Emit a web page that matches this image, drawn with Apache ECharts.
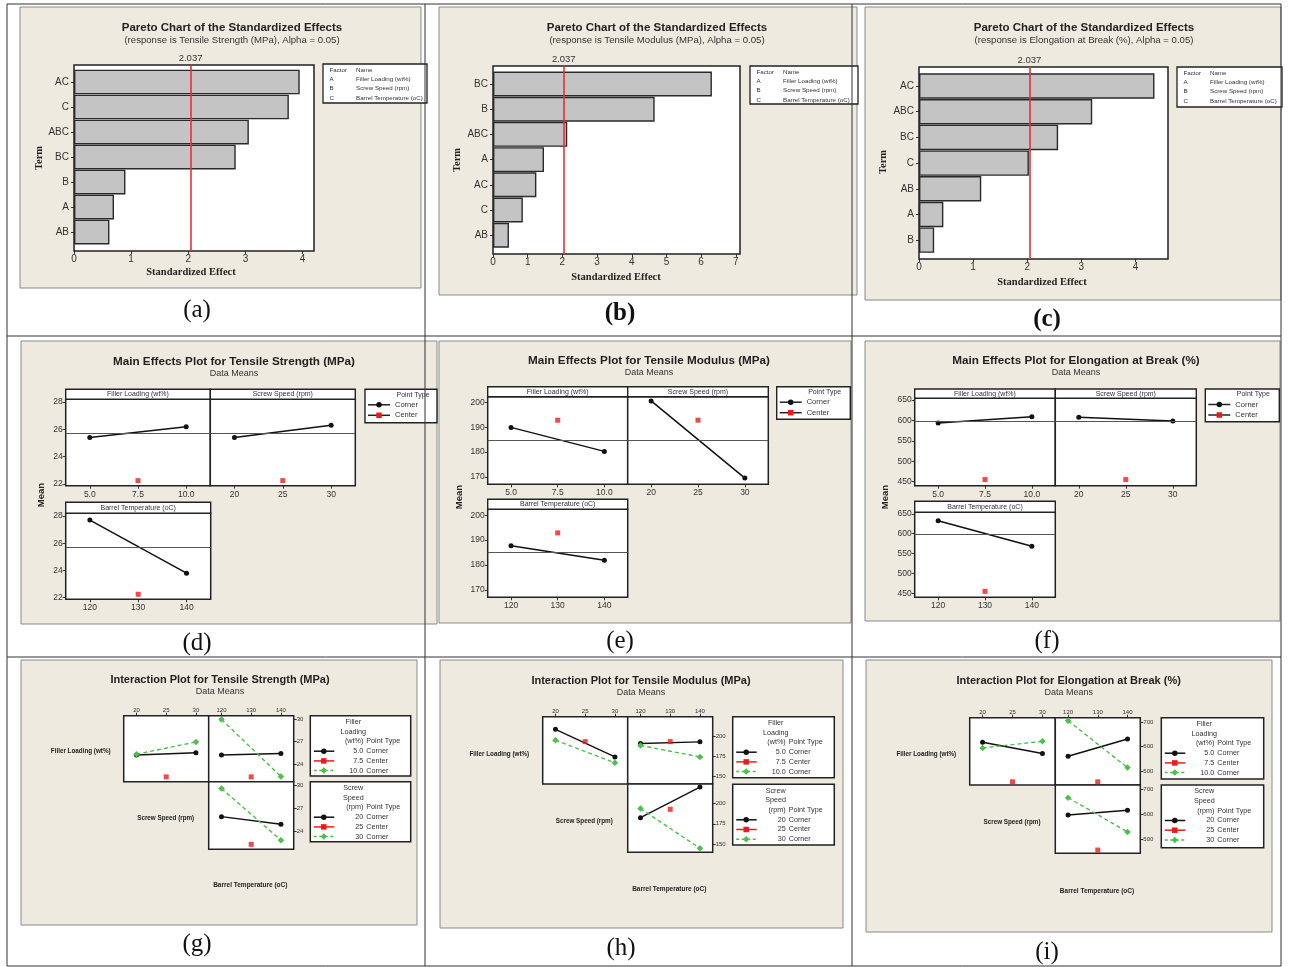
<!DOCTYPE html>
<html>
<head>
<meta charset="utf-8">
<script src="https://cdn.jsdelivr.net/npm/echarts@6/dist/echarts.min.js"></script>
<style>
html,body{margin:0;padding:0;background:#fff}
#chart{width:1304px;height:967px}
</style>
</head>
<body>
<div id="chart"></div>
<script>
// ---------------- data ----------------
const factorCodes = ['A', 'B', 'C'];
const factorNames = ['Filler Loading (wt%)', 'Screw Speed (rpm)', 'Barrel Temperature (oC)'];
const criticalEffect = 2.037;

// Pareto charts of standardized effects
const paretoTermsTS = ['AC', 'C', 'ABC', 'BC', 'B', 'A', 'AB'];
const paretoEffectsTS = [3.95, 3.76, 3.06, 2.83, 0.90, 0.70, 0.62];
const paretoTermsTM = ['BC', 'B', 'ABC', 'A', 'AC', 'C', 'AB'];
const paretoEffectsTM = [6.31, 4.66, 2.14, 1.47, 1.25, 0.86, 0.46];
const paretoTermsEB = ['AC', 'ABC', 'BC', 'C', 'AB', 'A', 'B'];
const paretoEffectsEB = [4.35, 3.20, 2.57, 2.03, 1.15, 0.45, 0.28];
const paretoTicks4 = [0, 1, 2, 3, 4];
const paretoTicks7 = [0, 1, 2, 3, 4, 5, 6, 7];

// factor levels (corner) and center points
const fillerLevels = [5.0, 10.0];
const speedLevels = [20, 30];
const tempLevels = [120, 140];
const fillerCenter = 7.5;
const speedCenter = 25;
const tempCenter = 130;
const fillerTicks = [5.0, 7.5, 10.0];
const speedTicks = [20, 25, 30];
const tempTicks = [120, 130, 140];

// main effects: corner means at low/high level, center-point mean, grand mean
const tsMainFiller = [25.4, 26.2];
const tsMainSpeed = [25.4, 26.3];
const tsMainTemp = [27.7, 23.8];
const tsCenter = 22.25;
const tsGrandMean = 25.7;
const tsMainTicks = [22, 24, 26, 28];

const tmMainFiller = [190.0, 180.3];
const tmMainSpeed = [200.7, 169.5];
const tmMainTemp = [187.7, 181.9];
const tmCenter = 192.9;
const tmGrandMean = 185.0;
const tmMainTicks = [170, 180, 190, 200];

const ebMainFiller = [593.4, 609.0];
const ebMainSpeed = [607.4, 598.4];
const ebMainTemp = [632.6, 568.6];
const ebCenter = 455.0;
const ebGrandMean = 598.0;
const ebMainTicks = [450, 500, 550, 600, 650];

// interaction means: line for low level / high level of the row factor
const tsFillerSpeedLow = [25.2, 25.5];
const tsFillerSpeedHigh = [25.3, 26.96];
const tsFillerTempLow = [25.2, 25.4];
const tsFillerTempHigh = [30.0, 22.3];
const tsSpeedTempLow = [25.9, 24.9];
const tsSpeedTempHigh = [29.6, 22.8];
const tsIntTicks = [24, 27, 30];

const tmFillerSpeedLow = [208.2, 173.8];
const tmFillerSpeedHigh = [194.7, 166.4];
const tmFillerTempLow = [190.6, 192.6];
const tmFillerTempHigh = [188.1, 173.8];
const tmSpeedTempLow = [182.6, 220.2];
const tmSpeedTempHigh = [193.8, 145.0];
const tmIntTicks = [150, 175, 200];

const ebFillerSpeedLow = [617.7, 571.4];
const ebFillerSpeedHigh = [594.6, 621.8];
const ebFillerTempLow = [560.5, 631.3];
const ebFillerTempHigh = [706.8, 513.6];
const ebSpeedTempLow = [597.3, 616.3];
const ebSpeedTempHigh = [667.3, 528.6];
const ebIntTicks = [500, 600, 700];

const panelLetters = ['(a)', '(b)', '(c)', '(d)', '(e)', '(f)', '(g)', '(h)', '(i)'];

// ---------------- drawing helpers ----------------
const SANS = 'Liberation Sans';
const SERIF = 'Liberation Serif';
const INK = '#222';
const BEIGE = '#eeeae0';
const RED = '#ee1a1a';
const GREEN = '#4cbf4c';

const grid = [], xAxis = [], yAxis = [], series = [], graphic = [];

function addText(x, y, s, o = {}) {
  graphic.push({
    type: 'text', x, y, rotation: o.rotation || 0, z: o.z ?? 6, silent: true,
    style: {
      text: s, fill: o.color || INK, fontSize: o.size || 9, fontFamily: o.family || SANS,
      fontWeight: o.weight || 'normal',
      textAlign: o.align || 'center', align: o.align || 'center',
      textVerticalAlign: 'middle', verticalAlign: 'middle'
    }
  });
}
function addRect(x, y, w, h, o = {}) {
  graphic.push({
    type: 'rect', z: o.z ?? 5, silent: true, shape: { x, y, width: w, height: h },
    style: { fill: o.fill || '#fff', stroke: o.stroke || '#222', lineWidth: o.lw ?? 1 }
  });
}
function addLine(x1, y1, x2, y2, o = {}) {
  const style = { stroke: o.color || '#222', lineWidth: o.lw || 1 };
  if (o.dash) style.lineDash = o.dash;
  graphic.push({ type: 'line', z: o.z ?? 6, silent: true, shape: { x1, y1, x2, y2 }, style });
}
function addMarker(kind, cx, cy, color, size) {
  if (kind === 'circle') {
    graphic.push({ type: 'circle', z: 7, silent: true, shape: { cx, cy, r: size / 2 }, style: { fill: color } });
  } else if (kind === 'rect') {
    graphic.push({ type: 'rect', z: 7, silent: true, shape: { x: cx - size / 2, y: cy - size / 2, width: size, height: size }, style: { fill: color } });
  } else {
    const h = size / 2;
    graphic.push({ type: 'polygon', z: 7, silent: true, shape: { points: [[cx, cy - h], [cx + h, cy], [cx, cy + h], [cx - h, cy]] }, style: { fill: color } });
  }
}
function addGrid(r, o = {}) {
  grid.push({
    left: r.l, top: r.t, width: r.w, height: r.h, show: o.show !== false,
    backgroundColor: '#fff', borderColor: '#222', borderWidth: o.bw || 1.4, z: 1
  });
  return grid.length - 1;
}
function valAxis(gi, min, max, ticks, o = {}) {
  const has = !!ticks;
  return {
    type: 'value', gridIndex: gi, min, max, position: o.pos,
    splitLine: { show: false }, axisLine: { show: false },
    axisTick: { show: has, length: o.tl || 3, customValues: ticks || undefined, lineStyle: { color: '#333', width: 1 } },
    axisLabel: {
      show: has && o.labels !== false, customValues: ticks || undefined, fontFamily: SANS,
      fontSize: o.fs || 9, color: '#333', margin: o.margin ?? 3, formatter: o.fmt, hideOverlap: false
    }
  };
}

// ---------------- Pareto charts ----------------
function pareto(L, subtitle, terms, effects, ticks) {
  addText(L.cx, L.ty, 'Pareto Chart of the Standardized Effects', { size: 11.5, weight: 'bold' });
  addText(L.cx, L.ty + 12.5, subtitle, { size: 9.6, color: '#333' });

  const gf = addGrid(L.frame, { bw: 1.5 });
  xAxis.push(valAxis(gf, 0, L.max, ticks, { fs: 10, margin: 3 }));
  yAxis.push({ type: 'value', gridIndex: gf, min: 0, max: 1, show: false });
  series.push({
    type: 'scatter', xAxisIndex: xAxis.length - 1, yAxisIndex: yAxis.length - 1, data: [], z: 2, silent: true,
    markLine: {
      silent: true, symbol: ['none', 'none'], animation: false,
      lineStyle: { color: '#e8322e', width: 1.6, type: 'solid' },
      label: { show: true, position: 'end', distance: 2, formatter: () => criticalEffect.toFixed(3), fontSize: 9.5, fontFamily: SANS, color: '#333' },
      data: [{ xAxis: criticalEffect }]
    }
  });

  const gb = addGrid({ l: L.frame.l, t: L.barTop, w: L.frame.w, h: L.barH }, { show: false });
  xAxis.push({ type: 'value', gridIndex: gb, min: 0, max: L.max, show: false });
  yAxis.push({
    type: 'category', gridIndex: gb, inverse: true, data: terms,
    axisLine: { show: false },
    axisTick: { show: true, alignWithLabel: true, length: 3, lineStyle: { color: '#333' } },
    axisLabel: { fontSize: 10, fontFamily: SANS, color: '#333', margin: 5 }
  });
  series.push({
    type: 'bar', xAxisIndex: xAxis.length - 1, yAxisIndex: yAxis.length - 1, data: effects,
    barCategoryGap: '1%', z: 3, silent: true,
    itemStyle: { color: '#c4c4c4', borderColor: '#2a2a2a', borderWidth: 1.4 }
  });

  addText(L.termX, L.termY, 'Term', { size: 10.5, weight: 'bold', family: SERIF, rotation: Math.PI / 2 });
  addText(L.effX, L.effY, 'Standardized Effect', { size: 10.5, weight: 'bold', family: SERIF });

  const g = L.legend;
  addRect(g.l, g.t, g.w, g.h, { lw: 1.3 });
  const rows = ['Factor'].concat(factorCodes);
  const names = ['Name'].concat(factorNames);
  rows.forEach((c, i) => {
    const y = g.t + 6 + i * 9.3;
    addText(g.l + 6.5, y, c, { size: 6.2, align: 'left', color: '#333' });
    addText(g.l + 33, y, names[i], { size: 6.2, align: 'left', color: '#333' });
  });
}

// ---------------- main effects plots ----------------
function mainEffects(L, title, vFiller, vSpeed, vTemp, center, mean, yMin, yMax, ticks) {
  addText(L.cx, L.ty, title, { size: 11.7, weight: 'bold' });
  addText(L.cx, L.ty + 12, 'Data Means', { size: 9, color: '#333' });
  const facs = [
    { lv: fillerLevels, c: fillerCenter, v: vFiller, ticks: fillerTicks, fmt: v => Number(v).toFixed(1), name: factorNames[0] },
    { lv: speedLevels, c: speedCenter, v: vSpeed, ticks: speedTicks, fmt: v => String(v), name: factorNames[1] },
    { lv: tempLevels, c: tempCenter, v: vTemp, ticks: tempTicks, fmt: v => String(v), name: factorNames[2] }
  ];
  L.panels.forEach((p, i) => {
    const f = facs[i];
    const gi = addGrid(p, { bw: 1.5 });
    const pad = (f.lv[1] - f.lv[0]) * 0.25;
    xAxis.push(valAxis(gi, f.lv[0] - pad, f.lv[1] + pad, f.ticks, { fmt: f.fmt, fs: 8.5, margin: 4 }));
    yAxis.push(valAxis(gi, yMin, yMax, p.showY ? ticks : null, { fs: 8.5, margin: 3 }));
    const xi = xAxis.length - 1, yi = yAxis.length - 1;
    series.push({
      type: 'line', xAxisIndex: xi, yAxisIndex: yi, z: 3, silent: true,
      data: f.lv.map((x, k) => [x, f.v[k]]),
      symbol: 'circle', symbolSize: 5, lineStyle: { color: '#111', width: 1.5 }, itemStyle: { color: '#111' },
      markLine: {
        silent: true, symbol: ['none', 'none'], animation: false, label: { show: false },
        lineStyle: { color: '#555', width: 1.1, type: 'solid' }, data: [{ yAxis: mean }]
      }
    });
    series.push({
      type: 'scatter', xAxisIndex: xi, yAxisIndex: yi, z: 4, silent: true,
      data: [[f.c, center]], symbol: 'rect', symbolSize: 5, itemStyle: { color: RED }
    });
    addRect(p.l, p.ht, p.w, p.t - p.ht, { lw: 1.4 });
    addText(p.l + p.w / 2, p.ht + (p.t - p.ht) / 2, f.name, { size: 7, color: '#333' });
  });
  addText(L.meanX, L.meanY, 'Mean', { size: 9.5, weight: 'bold', rotation: Math.PI / 2 });

  const g = L.legend;
  addRect(g.l, g.t, g.w, g.h, { lw: 1.4 });
  addText(g.l + 48, g.t + 5.5, 'Point Type', { size: 7, color: '#333' });
  [['Corner', 'circle', '#111'], ['Center', 'rect', RED]].forEach((r, k) => {
    const y = g.t + 15.5 + k * 10.5;
    addLine(g.l + 3, y, g.l + 25, y, { color: '#222', lw: 1.5, z: 6 });
    addMarker(r[1], g.l + 14, y, r[2], 5.5);
    addText(g.l + 30, y, r[0], { size: 7.5, align: 'left', color: '#333' });
  });
}

// ---------------- interaction plots ----------------
function interaction(L, title, fsLow, fsHigh, ftLow, ftHigh, stLow, stHigh, center, yMin, yMax, ticks) {
  addText(L.cx, L.ty, title, { size: 11, weight: 'bold' });
  addText(L.cx, L.ty + 12, 'Data Means', { size: 9, color: '#333' });
  const padFrac = 0.215;
  const cells = [
    { r: L.r1c1, lv: speedLevels, c: speedCenter, tk: speedTicks, low: fsLow, high: fsHigh, top: true, right: false },
    { r: L.r1c2, lv: tempLevels, c: tempCenter, tk: tempTicks, low: ftLow, high: ftHigh, top: true, right: true },
    { r: L.r2c2, lv: tempLevels, c: tempCenter, tk: tempTicks, low: stLow, high: stHigh, top: false, right: true }
  ];
  cells.forEach(cl => {
    const gi = addGrid(cl.r, { bw: 1.5 });
    const pad = (cl.lv[1] - cl.lv[0]) * padFrac;
    xAxis.push(valAxis(gi, cl.lv[0] - pad, cl.lv[1] + pad, cl.top ? cl.tk : null, { pos: 'top', fs: 6, margin: 2.5 }));
    yAxis.push(valAxis(gi, yMin, yMax, cl.right ? ticks : null, { pos: 'right', fs: 6, margin: 3 }));
    const xi = xAxis.length - 1, yi = yAxis.length - 1;
    series.push({
      type: 'line', xAxisIndex: xi, yAxisIndex: yi, z: 3, silent: true,
      data: cl.lv.map((x, k) => [x, cl.low[k]]),
      symbol: 'circle', symbolSize: 5, lineStyle: { color: '#111', width: 1.4 }, itemStyle: { color: '#111' }
    });
    series.push({
      type: 'line', xAxisIndex: xi, yAxisIndex: yi, z: 3, silent: true,
      data: cl.lv.map((x, k) => [x, cl.high[k]]),
      symbol: 'diamond', symbolSize: 6.5, lineStyle: { color: GREEN, width: 1.4, type: [4, 3] }, itemStyle: { color: GREEN }
    });
    series.push({
      type: 'scatter', xAxisIndex: xi, yAxisIndex: yi, z: 4, silent: true,
      data: [[cl.c, center]], symbol: 'rect', symbolSize: 5, itemStyle: { color: RED }
    });
  });
  addText(L.flX, L.flY, factorNames[0], { size: 6.3, weight: 'bold' });
  addText(L.ssX, L.ssY, factorNames[1], { size: 6.3, weight: 'bold' });
  addText(L.btX, L.btY, factorNames[2], { size: 6.5, weight: 'bold' });

  const legends = [
    { box: L.lg1, head: ['Filler', 'Loading', '(wt%)'], lv: [fillerLevels[0], fillerCenter, fillerLevels[1]].map(v => v.toFixed(1)) },
    { box: L.lg2, head: ['Screw', 'Speed', '(rpm)'], lv: [speedLevels[0], speedCenter, speedLevels[1]].map(String) }
  ];
  legends.forEach(lg => {
    const b = lg.box;
    addRect(b.l, b.t, b.w, b.h, { lw: 1.5 });
    const colR = b.l + 53;
    addText(colR - 10, b.t + 6.5, lg.head[0], { size: 7.2, color: '#333' });
    addText(colR - 10, b.t + 16, lg.head[1], { size: 7.2, color: '#333' });
    addText(colR, b.t + 25.6, lg.head[2], { size: 7.2, color: '#333', align: 'right' });
    addText(colR + 3, b.t + 25.6, 'Point Type', { size: 7.2, color: '#333', align: 'left' });
    const rows = [
      { kind: 'circle', col: '#111', dash: null, txt: 'Corner' },
      { kind: 'rect', col: RED, dash: null, txt: 'Center' },
      { kind: 'diamond', col: GREEN, dash: [3, 2.5], txt: 'Corner' }
    ];
    rows.forEach((r, k) => {
      const y = b.t + 35.5 + k * 9.7;
      addLine(b.l + 3.5, y, b.l + 24, y, { color: r.col, lw: 1.5, dash: r.dash });
      addMarker(r.kind, b.l + 13.5, y, r.col, r.kind === 'diamond' ? 6.5 : 5.5);
      addText(colR, y, lg.lv[k], { size: 7.2, color: '#333', align: 'right' });
      addText(colR + 3, y, r.txt, { size: 7.2, color: '#333', align: 'left' });
    });
  });
}

// ---------------- page layout ----------------
const panelBoxes = [
  [20, 7, 401, 281], [439, 7, 418, 288], [865, 7, 416, 293],
  [21, 341, 416, 283], [439, 341, 412, 282], [865, 341, 415, 280],
  [21, 660, 396, 265], [440, 660, 403, 268], [866, 660, 406, 272]
];
panelBoxes.forEach(b => addRect(b[0], b[1], b[2], b[3], { fill: BEIGE, stroke: '#8a8a8a', lw: 1, z: -5 }));

pareto({ cx: 232, ty: 28, frame: { l: 74, t: 65, w: 240, h: 186 }, barTop: 69.5, barH: 175, max: 4.2,
  termX: 39, termY: 158, effX: 191, effY: 272, legend: { l: 323, t: 64, w: 104, h: 39 } },
  '(response is Tensile Strength (MPa), Alpha = 0.05)', paretoTermsTS, paretoEffectsTS, paretoTicks4);
pareto({ cx: 657, ty: 28, frame: { l: 493, t: 66, w: 247, h: 188 }, barTop: 71.4, barH: 176.4, max: 7.12,
  termX: 457, termY: 160, effX: 616, effY: 277, legend: { l: 750, t: 66, w: 108, h: 38 } },
  '(response is Tensile Modulus (MPa), Alpha = 0.05)', paretoTermsTM, paretoEffectsTM, paretoTicks7);
pareto({ cx: 1084, ty: 28, frame: { l: 919, t: 67, w: 249, h: 192 }, barTop: 73.2, barH: 179.8, max: 4.6,
  termX: 883, termY: 162, effX: 1042, effY: 282, legend: { l: 1177, t: 67, w: 105, h: 40 } },
  '(response is Elongation at Break (%), Alpha = 0.05)', paretoTermsEB, paretoEffectsEB, paretoTicks4);

mainEffects({ cx: 234, ty: 362, meanX: 41, meanY: 495, legend: { l: 365, t: 389.3, w: 72, h: 33.4 },
  panels: [
    { l: 65.7, t: 399.3, w: 144.6, h: 86.4, ht: 389.3, showY: true },
    { l: 210.3, t: 399.3, w: 145, h: 86.4, ht: 389.3, showY: false },
    { l: 65.7, t: 513.3, w: 145, h: 86, ht: 502.3, showY: true }
  ] }, 'Main Effects Plot for Tensile Strength (MPa)', tsMainFiller, tsMainSpeed, tsMainTemp, tsCenter, tsGrandMean, 21.88, 28.2, tsMainTicks);
mainEffects({ cx: 649, ty: 361, meanX: 459, meanY: 497, legend: { l: 776.7, t: 386.7, w: 73.6, h: 32.6 },
  panels: [
    { l: 487.7, t: 396.7, w: 140, h: 87.6, ht: 386.7, showY: true },
    { l: 627.7, t: 396.7, w: 140.6, h: 87.6, ht: 386.7, showY: false },
    { l: 487.7, t: 509.3, w: 140, h: 88, ht: 499.3, showY: true }
  ] }, 'Main Effects Plot for Tensile Modulus (MPa)', tmMainFiller, tmMainSpeed, tmMainTemp, tmCenter, tmGrandMean, 167, 202.4, tmMainTicks);
mainEffects({ cx: 1076, ty: 361, meanX: 885, meanY: 497, legend: { l: 1205.3, t: 389, w: 74, h: 32.7 },
  panels: [
    { l: 914.7, t: 398.3, w: 140.6, h: 87.4, ht: 389, showY: true },
    { l: 1055.3, t: 398.3, w: 141, h: 87.4, ht: 389, showY: false },
    { l: 914.7, t: 512.3, w: 140.6, h: 85, ht: 501.3, showY: true }
  ] }, 'Main Effects Plot for Elongation at Break (%)', ebMainFiller, ebMainSpeed, ebMainTemp, ebCenter, ebGrandMean, 440, 654, ebMainTicks);

interaction({ cx: 220, ty: 680,
  r1c1: { l: 123.7, t: 715.7, w: 85, h: 66 }, r1c2: { l: 208.7, t: 715.7, w: 85, h: 66 }, r2c2: { l: 208.7, t: 781.7, w: 85, h: 67.6 },
  flX: 80.7, flY: 751.7, ssX: 165.7, ssY: 818.3, btX: 250.3, btY: 885,
  lg1: { l: 310.3, t: 715.7, w: 100.4, h: 60.3 }, lg2: { l: 310.3, t: 781.7, w: 100.4, h: 60 } },
  'Interaction Plot for Tensile Strength (MPa)', tsFillerSpeedLow, tsFillerSpeedHigh, tsFillerTempLow, tsFillerTempHigh,
  tsSpeedTempLow, tsSpeedTempHigh, tsCenter, 21.6, 30.5, tsIntTicks);
interaction({ cx: 641, ty: 680.7,
  r1c1: { l: 542.7, t: 716.7, w: 85, h: 67.3 }, r1c2: { l: 627.7, t: 716.7, w: 85, h: 67.3 }, r2c2: { l: 627.7, t: 784, w: 85, h: 68.3 },
  flX: 499.3, flY: 754, ssX: 584.3, ssY: 821.7, btX: 669.3, btY: 889.3,
  lg1: { l: 732.7, t: 716.7, w: 101.6, h: 61 }, lg2: { l: 732.7, t: 784.3, w: 101.6, h: 60.7 } },
  'Interaction Plot for Tensile Modulus (MPa)', tmFillerSpeedLow, tmFillerSpeedHigh, tmFillerTempLow, tmFillerTempHigh,
  tmSpeedTempLow, tmSpeedTempHigh, tmCenter, 140, 224, tmIntTicks);
interaction({ cx: 1068.7, ty: 680.7,
  r1c1: { l: 969.7, t: 717.7, w: 85.6, h: 67.3 }, r1c2: { l: 1055.3, t: 717.7, w: 85, h: 67.3 }, r2c2: { l: 1055.3, t: 785, w: 85, h: 68.3 },
  flX: 926.3, flY: 754.3, ssX: 1012, ssY: 822.7, btX: 1097, btY: 891.7,
  lg1: { l: 1161.3, t: 717.7, w: 102.4, h: 61.3 }, lg2: { l: 1161.3, t: 785, w: 102.4, h: 62.7 } },
  'Interaction Plot for Elongation at Break (%)', ebFillerSpeedLow, ebFillerSpeedHigh, ebFillerTempLow, ebFillerTempHigh,
  ebSpeedTempLow, ebSpeedTempHigh, ebCenter, 442, 719, ebIntTicks);

// table rules around the nine cells
addRect(7, 4, 1274, 962, { fill: 'none', stroke: '#333', lw: 1, z: 8 });
addLine(425, 4, 425, 966, { color: '#333', lw: 1, z: 8 });
addLine(852, 4, 852, 966, { color: '#333', lw: 1, z: 8 });
addLine(7, 336, 1281, 336, { color: '#333', lw: 1, z: 8 });
addLine(7, 657, 1281, 657, { color: '#333', lw: 1, z: 8 });

// sub-figure letters
const letterPos = [[197, 310], [620, 314], [1047, 320], [197, 643], [620, 641], [1047, 641], [197, 944], [621, 948], [1047, 952]];
panelLetters.forEach((s, i) => {
  addText(letterPos[i][0], letterPos[i][1], s, { size: 25, family: SERIF, weight: (i === 1 || i === 2) ? 'bold' : 'normal', color: '#111' });
});

const chart = echarts.init(document.getElementById('chart'), null, { renderer: 'canvas', width: 1304, height: 967 });
chart.setOption({
  backgroundColor: '#ffffff',
  animation: false,
  grid, xAxis, yAxis, series,
  graphic: { elements: graphic }
});
</script>
</body>
</html>
